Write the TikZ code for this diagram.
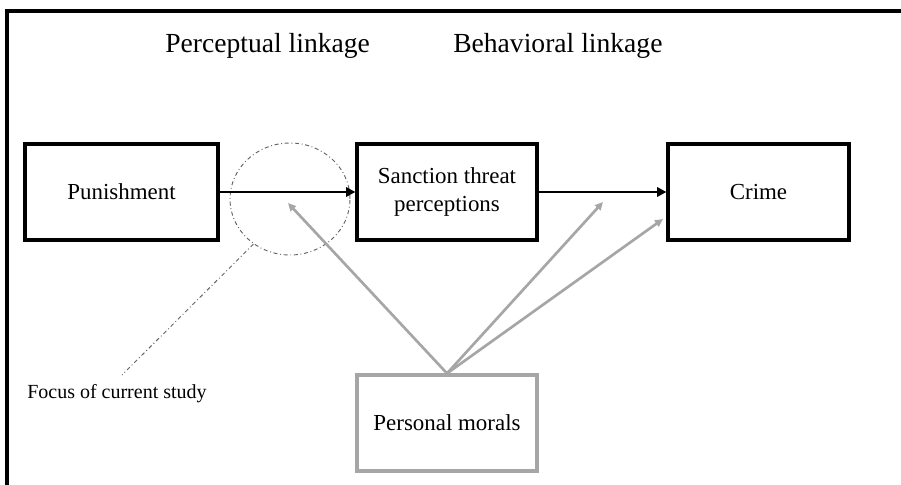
\documentclass[tikz,border=0pt]{standalone}
\usepackage{fontspec}
\setmainfont{Liberation Serif}
\usetikzlibrary{shapes.geometric,arrows.meta}
\definecolor{morgray}{RGB}{166,166,166}
\definecolor{focgray}{RGB}{100,100,100}
\begin{document}
\begin{tikzpicture}[x=0.75pt,y=-0.75pt,
  box/.style={draw=black,line width=2.4pt,inner sep=0pt,align=center,font=\fontsize{17.2}{21}\selectfont},
  graybox/.style={draw=morgray,line width=2.4pt,inner sep=0pt,align=center,font=\fontsize{17.2}{21}\selectfont},
  blackarrow/.style={line width=2.2pt,-{Triangle[length=7pt,width=7pt]}},
  grayarrow/.style={draw=morgray,line width=2pt,-{Triangle[length=6pt,width=5.5pt]}},
  focusline/.style={draw=focgray,line width=0.7pt,dash dot},
  title/.style={anchor=base west,inner sep=0pt,font=\fontsize{20.7}{24}\selectfont}]
\useasboundingbox (0,0) rectangle (901,485);
\fill[white] (0,0) rectangle (901,485);
% frame (top and left edges)
\draw[line width=2.8pt] (7,485) -- (7,11) -- (901,11);
% titles
\node[title] (tperc) at (165,53) {Perceptual linkage};
\node[title] (tbeh) at (453,53) {Behavioral linkage};
% boxes
\node[box,minimum width=144.75pt,minimum height=72pt] (pun) at (121.5,192) {Punishment};
\node[box,minimum width=135pt,minimum height=72pt] (san) at (447,192) {Sanction threat\\perceptions};
\node[box,minimum width=135.75pt,minimum height=72pt] (crime) at (758.5,192) {Crime};
\node[graybox,minimum width=135pt,minimum height=72pt] (mor) at (447,423) {Personal morals};
% focus circle
\node[ellipse,focusline,draw,minimum width=90pt,minimum height=84pt,inner sep=0pt] (focus) at (290,199) {};
\coordinate (fend) at (122,375);
\draw[focusline] (focus.231) -- (fend);
\node[anchor=base west,inner sep=0pt,font=\fontsize{15}{18}\selectfont] (ftext) at (27,398) {Focus of current study};
% black arrows
\draw[blackarrow] (pun.east) -- (san.west);
\draw[blackarrow] (san.east) -- (crime.west);
% gray arrows
\coordinate (g1) at (288,203);
\coordinate (g2) at (603,202);
\coordinate (g3) at (663,219);
\draw[grayarrow] (mor.north) -- (g1);
\draw[grayarrow] (mor.north) -- (g2);
\draw[grayarrow] (mor.north) -- (g3);
\end{tikzpicture}
\end{document}
